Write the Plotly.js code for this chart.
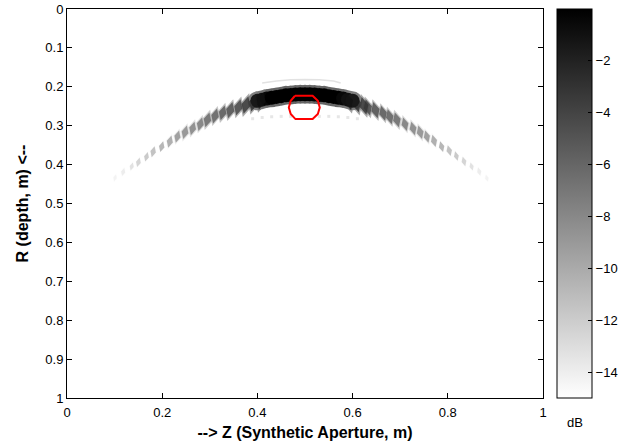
<!DOCTYPE html>
<html>
<head>
<meta charset="utf-8">
<script src="https://cdn.plot.ly/plotly-3.0.1.min.js"></script>
<style>html,body{margin:0;padding:0;background:#fff;}#chart{width:623px;height:447px;}</style>
</head>
<body>
<div id="chart"></div>
<script>
// ---- Data ----
// Left flank stripes (outer -> inner)
var leftZ  = [0.101,0.118,0.136,0.150,0.167,0.181,0.199,0.216,0.232,0.248,0.264,0.280,0.295,0.311,0.327,0.343,0.360,0.376,0.392,0.408];
var leftR  = [0.434,0.419,0.405,0.394,0.380,0.367,0.354,0.341,0.328,0.317,0.307,0.296,0.285,0.275,0.267,0.260,0.253,0.247,0.241,0.236];
var leftDb = [-14,-13.5,-12.5,-11.5,-10.5,-10,-9,-8.5,-7.5,-7,-6.5,-6,-5,-4.5,-4,-3.5,-3,-2,-1.5,-1];
// Right flank stripes (inner -> outer)
var rightZ  = [0.592,0.608,0.624,0.632,0.648,0.664,0.678,0.693,0.710,0.727,0.742,0.756,0.771,0.787,0.803,0.818,0.834,0.850,0.866,0.882];
var rightR  = [0.238,0.243,0.249,0.253,0.260,0.268,0.277,0.285,0.296,0.307,0.317,0.328,0.339,0.354,0.364,0.378,0.392,0.405,0.418,0.435];
var rightDb = [-1,-1.5,-2,-3,-3.5,-4,-4.5,-5,-6,-6.5,-7,-7.5,-8.5,-9,-10,-10.5,-11.5,-12.5,-13.5,-14];
var leftSize  = [5,6,6,7,7,8,8,9,9,10,10,10,11,11,11,12,12,13,13,13];
var rightSize = [13,13,13,12,12,11,11,11,10,10,10,9,9,8,8,7,7,6,6,5];
// Central (apex) band
var bandZ  = [0.40,0.41,0.42,0.43,0.44,0.45,0.46,0.47,0.48,0.49,0.50,0.51,0.52,0.53,0.54,0.55,0.56,0.57,0.58,0.59,0.60];
var bandR  = [0.236,0.233,0.230,0.228,0.226,0.224,0.222,0.221,0.220,0.219,0.219,0.219,0.220,0.221,0.222,0.224,0.226,0.228,0.230,0.233,0.236];
var bandDb = [-1.5,-1,-0.5,0,0,0,0,0,0,0,0,0,0,0,0,0,0,0,-0.5,-1,-1.5];
// Faint sidelobe arc above the apex
var lobeZ = [0.41,0.44,0.47,0.50,0.53,0.56,0.575];
var lobeR = [0.190,0.185,0.182,0.181,0.182,0.185,0.190];
// Faint dots below the apex
var dotZ  = [0.39,0.41,0.43,0.45,0.47,0.53,0.55,0.57,0.59,0.61];
var dotR  = [0.282,0.279,0.277,0.276,0.276,0.276,0.276,0.277,0.279,0.282];
var dotDb = [-13.5,-13.5,-13.5,-13.5,-13.5,-13.5,-13.5,-13.5,-13.5,-13.5];
// Red marker outline around the target
var ringZ = [0.479,0.516,0.527,0.531,0.527,0.516,0.480,0.470,0.466,0.470,0.479];
var ringR = [0.223,0.223,0.236,0.253,0.270,0.283,0.283,0.270,0.253,0.236,0.223];
// Axis ticks
var xTicks = [0,0.2,0.4,0.6,0.8,1];
var xLabels = ['0','0.2','0.4','0.6','0.8','1'];
var yTicks = [0,0.1,0.2,0.3,0.4,0.5,0.6,0.7,0.8,0.9,1];
var yLabels = ['0','0.1','0.2','0.3','0.4','0.5','0.6','0.7','0.8','0.9','1'];
var cbTicks = [-14,-12,-10,-8,-6,-4,-2];

var grayScale = [[0,'#ffffff'],[1,'#000000']];
var FONT = 'Liberation Sans, Arial, sans-serif';

// soft "blur" halo styling derived from the marks (style only)
function halo(v){ return v.map(function(d){ return Math.max(d - 6, -14.8); }); }
function bigger(s, f){ return s.map(function(d){ return d * f; }); }

function mk(x, y, c, size, symbol, angle){
  return {symbol:symbol, size:size, angle:angle||0, color:c, cmin:-15, cmax:0,
          colorscale:grayScale, showscale:false, line:{width:0}};
}

var traces = [
  {type:'scatter', mode:'markers', x:dotZ, y:dotR, hoverinfo:'skip', marker:mk(0,0,dotDb,3,'square')},
  {type:'scatter', mode:'lines', x:lobeZ, y:lobeR, hoverinfo:'skip', line:{color:'#e2e2e2', width:1.5}},
  // halos
  {type:'scatter', mode:'markers', x:bandZ, y:bandR, hoverinfo:'skip', marker:mk(0,0,halo(bandDb),19,'circle')},
  {type:'scatter', mode:'markers', x:leftZ, y:leftR, hoverinfo:'skip', marker:mk(0,0,halo(leftDb),bigger(leftSize,1.35),'diamond-tall',15)},
  {type:'scatter', mode:'markers', x:rightZ, y:rightR, hoverinfo:'skip', marker:mk(0,0,halo(rightDb),bigger(rightSize,1.35),'diamond-tall',-15)},
  // cores
  {type:'scatter', mode:'markers', x:bandZ, y:bandR, hoverinfo:'skip',
   marker:{symbol:'circle', size:14, color:bandDb, cmin:-15, cmax:0, colorscale:grayScale, line:{width:0},
     showscale:true,
     colorbar:{x:1.029, xanchor:'left', y:0.5, yanchor:'middle', len:1, lenmode:'fraction',
       thickness:35, thicknessmode:'pixels', xpad:0, ypad:0,
       outlinewidth:1, outlinecolor:'#000', ticks:'inside', ticklen:4, tickcolor:'#000',
       tickvals:cbTicks, tickfont:{family:FONT, size:13, color:'#000'}}}},
  {type:'scatter', mode:'markers', x:leftZ, y:leftR, hoverinfo:'skip', marker:mk(0,0,leftDb,leftSize,'diamond-tall',15)},
  {type:'scatter', mode:'markers', x:rightZ, y:rightR, hoverinfo:'skip', marker:mk(0,0,rightDb,rightSize,'diamond-tall',-15)},
  {type:'scatter', mode:'lines', x:ringZ, y:ringR, hoverinfo:'skip', line:{color:'#ff0000', width:2}}
];

var layout = {
  width:623, height:447,
  margin:{l:67, r:80, t:9, b:49, autoexpand:false},
  paper_bgcolor:'#ffffff', plot_bgcolor:'#ffffff',
  showlegend:false,
  font:{family:FONT, size:13, color:'#000'},
  xaxis:{range:[0,1], tickvals:xTicks, ticktext:xLabels, ticks:'inside', ticklen:5, tickcolor:'#000',
    showline:true, linecolor:'#000', linewidth:1, mirror:'ticks', showgrid:false, zeroline:false,
    tickfont:{family:FONT, size:13}, ticklabelstandoff:2,
    title:{text:'<b>--> Z (Synthetic Aperture, m)</b>', font:{family:FONT, size:16}, standoff:8}},
  yaxis:{range:[1,0], tickvals:yTicks, ticktext:yLabels, ticks:'inside', ticklen:5, tickcolor:'#000',
    showline:true, linecolor:'#000', linewidth:1, mirror:'ticks', showgrid:false, zeroline:false,
    tickfont:{family:FONT, size:13},
    title:{text:'<b>R (depth, m) <--</b>', font:{family:FONT, size:16}, standoff:12}},
  annotations:[{xref:'paper', yref:'paper', x:1.067, y:-0.064, text:'dB', showarrow:false,
    xanchor:'center', yanchor:'middle', font:{family:FONT, size:13, color:'#000'}}]
};

Plotly.newPlot('chart', traces, layout, {staticPlot:true, displayModeBar:false});
</script>
</body>
</html>
